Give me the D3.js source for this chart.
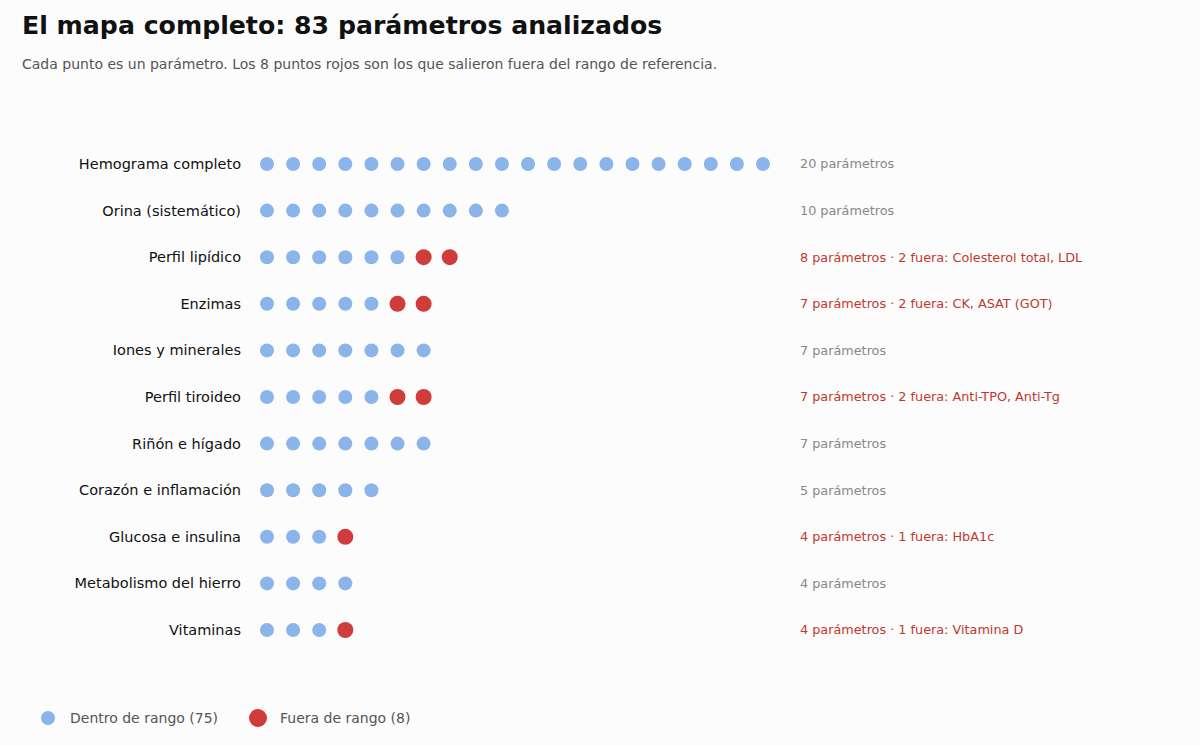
<!DOCTYPE html>
<html><head><meta charset="utf-8">
<script src="https://cdn.jsdelivr.net/npm/d3@7"></script>
<style>body{margin:0;background:#fcfcfc;font-family:"DejaVu Sans",sans-serif}</style>
</head><body><svg id="c" width="1200" height="745"></svg>
<script>
const categories=["Hemograma completo","Orina (sistemático)","Perfil lipídico","Enzimas","Iones y minerales","Perfil tiroideo","Riñón e hígado","Corazón e inflamación","Glucosa e insulina","Metabolismo del hierro","Vitaminas"];
const totals=[20,10,8,7,7,7,7,5,4,4,4];
const outCounts=[0,0,2,2,0,2,0,0,1,0,1];
const outNames=["","","Colesterol total, LDL","CK, ASAT (GOT)","","Anti-TPO, Anti-Tg","","","HbA1c","","Vitamina D"];
const BLUE="#8ab4ea",RED="#d03b3b";
const svg=d3.select("#c");
svg.append("rect").attr("width",1200).attr("height",745).attr("fill","#fcfcfc");
svg.append("text").attr("x",22).attr("y",34).attr("font-size",25.2).attr("font-weight","bold").attr("fill","#111").text("El mapa completo: 83 parámetros analizados");
svg.append("text").attr("x",22).attr("y",69).attr("font-size",14).attr("fill","#555").text("Cada punto es un parámetro. Los 8 puntos rojos son los que salieron fuera del rango de referencia.");
const y=d3.scalePoint().domain(categories).range([164,630]);
const x=d3.scaleLinear().domain([0,19]).range([267,763]);
categories.forEach((c,i)=>{
  const g=svg.append("g");
  g.append("text").attr("x",241).attr("y",y(c)).attr("dy","0.35em").attr("text-anchor","end").attr("font-size",14.5).attr("fill","#111").text(c);
  const pts=d3.range(totals[i]);
  g.selectAll("circle").data(pts).join("circle").attr("cx",d=>x(d)).attr("cy",y(c))
   .attr("r",d=>d>=totals[i]-outCounts[i]?8:7).attr("fill",d=>d>=totals[i]-outCounts[i]?RED:BLUE);
  const ann=totals[i]+" parámetros"+(outCounts[i]?" · "+outCounts[i]+" fuera: "+outNames[i]:"");
  g.append("text").attr("x",800).attr("y",y(c)).attr("dy","0.35em").attr("font-size",12.8).attr("fill",outCounts[i]?"#c0392b":"#888").text(ann);
});
const leg=[["Dentro de rango (75)",BLUE,48,7],["Fuera de rango (8)",RED,258,9]];
leg.forEach(l=>{
  svg.append("circle").attr("cx",l[2]).attr("cy",718).attr("r",l[3]).attr("fill",l[1]);
  svg.append("text").attr("x",l[2]+22).attr("y",718).attr("dy","0.35em").attr("font-size",14).attr("fill","#555").text(l[0]);
});
</script></body></html>
